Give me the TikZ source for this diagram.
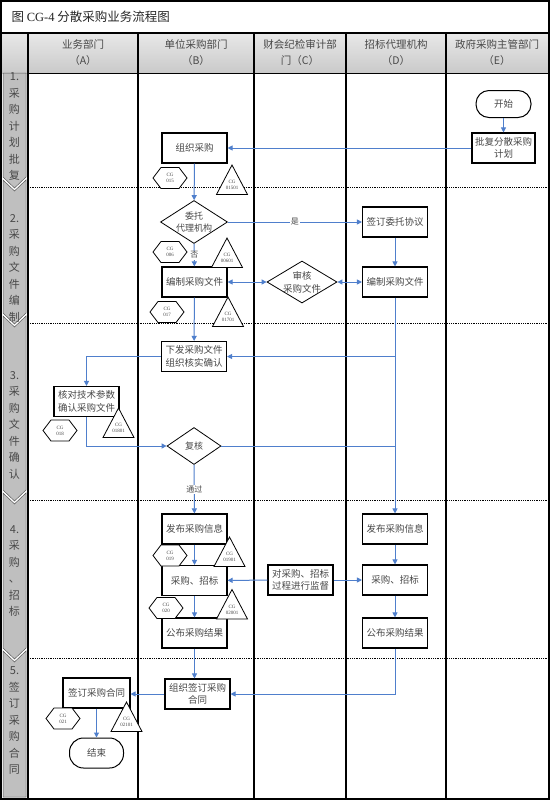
\documentclass[tikz,border=0pt]{standalone}
\usepackage{fontspec}
\setmainfont{Liberation Serif}
\newfontfamily\cjk{Noto Sans CJK SC}
\usetikzlibrary{shapes.geometric,arrows.meta,calc}
\definecolor{flowc}{HTML}{4F7FCC}
\definecolor{txt}{HTML}{484848}
\newcommand\cghex[4]{%
  \filldraw[cgshape] (#2-17,#3) -- (#2-9,#3-10.5) -- (#2+9,#3-10.5) -- (#2+17,#3) -- (#2+9,#3+10.5) -- (#2-9,#3+10.5) -- cycle;
  \node[cglabel] (#1) at (#2,#3) {CG\\#4};}
\newcommand\cgtri[4]{%
  \filldraw[cgshape] (#2,#3) -- (#2+15.5,#3+29.5) -- (#2-15.5,#3+29.5) -- cycle;
  \node[cglabel] (#1) at (#2,#3+20) {CG\\#4};}
\begin{document}
\begin{tikzpicture}[x=1pt,y=-1pt,
  box/.style={draw, line width=1.1pt, fill=white, minimum width=65pt, minimum height=30pt, inner sep=1pt, align=center, font=\cjk\fontsize{9.5}{12.5}\selectfont, text=txt},
  dec/.style={draw, diamond, line width=0.8pt, fill=white, inner sep=0pt},
  dectext/.style={align=center, font=\cjk\fontsize{9}{12}\selectfont, text=txt, inner sep=0pt},
  term/.style={draw, rounded corners=13pt, line width=1pt, fill=white, minimum width=55pt, minimum height=27pt, font=\cjk\fontsize{9.5}{12}\selectfont, text=txt},
  flow/.style={draw=flowc, line width=1pt, -{Triangle[length=5pt,width=5pt]}},
  flowtwo/.style={draw=flowc, line width=1pt, {Triangle[length=5pt,width=5pt]}-{Triangle[length=5pt,width=5pt]}},
  lineonly/.style={draw=flowc, line width=1pt},
  lab/.style={fill=white, inner sep=1pt, font=\cjk\fontsize{8}{9}\selectfont, text=txt},
  cgshape/.style={draw=black, line width=0.8pt, fill=white},
  cglabel/.style={align=center, font=\fontsize{5}{6}\selectfont, inner sep=0pt, text=txt},
  head/.style={align=center, font=\cjk\fontsize{10.5}{16}\selectfont, text=txt},
  phase/.style={align=center, font=\cjk\fontsize{11}{16.5}\selectfont, text=txt},
  chev/.style={fill=gray!50, draw=gray!70!black, line width=0.5pt},
  sep/.style={densely dotted, line width=0.8pt}
]
\useasboundingbox (0,0) rectangle (553,801);
\fill[white] (0,0) rectangle (553,801);
% header shading
\shade[top color=gray!18, bottom color=gray!42] (1,33) rectangle (549,73);
% phase chevrons
\fill[chev] (3,73) -- (26,73) -- (26,177) -- (14.5,188) -- (3,177) -- cycle;
\fill[chev] (3,180) -- (14.5,191) -- (26,180) -- (26,313) -- (14.5,324) -- (3,313) -- cycle;
\fill[chev] (3,316) -- (14.5,327) -- (26,316) -- (26,490) -- (14.5,501) -- (3,490) -- cycle;
\fill[chev] (3,493) -- (14.5,504) -- (26,493) -- (26,648) -- (14.5,659) -- (3,648) -- cycle;
\fill[chev] (3,651) -- (14.5,662) -- (26,651) -- (26,797) -- (3,797) -- cycle;
% separators
\foreach \yy in {187,323,500,658} \draw[sep] (28,\yy) -- (548,\yy);
% frame and columns
\draw[line width=1.2pt] (1,1) rectangle (549,799);
\draw[line width=1.2pt] (1,33) -- (549,33);
\draw[line width=0.6pt] (28,73) -- (549,73);
\foreach \xx in {28,138,254,346,446} \draw[line width=1.3pt] (\xx,33) -- (\xx,799);
% title
\node[anchor=west, font=\cjk\fontsize{12.5}{14}\selectfont, text=black!85] (title) at (8,17) {图 {\rmfamily CG-4} 分散采购业务流程图};
% headers
\node[head] (hA) at (83,53) {业务部门\\（A）};
\node[head] (hB) at (196,53) {单位采购部门\\（B）};
\node[head] (hC) at (300,53) {财会纪检审计部\\门（C）};
\node[head] (hD) at (396,53) {招标代理机构\\（D）};
\node[head] (hE) at (497,53) {政府采购主管部门\\（E）};
% phases
\node[phase] (p1) at (14.5,127) {1.\\采\\购\\计\\划\\批\\复};
\node[phase] (p2) at (14.5,268) {2.\\采\\购\\文\\件\\编\\制};
\node[phase] (p3) at (14.5,425) {3.\\采\\购\\文\\件\\确\\认};
\node[phase] (p4) at (14.5,571) {4.\\采\\购\\、\\招\\标};
\node[phase] (p5) at (14.5,721) {5.\\签\\订\\采\\购\\合\\同};
% nodes
\node[term] (start) at (503.5,104) {开始};
\node[box, minimum width=63pt] (pf) at (503.5,148) {批复分散采购\\计划};
\node[box] (zz) at (194.5,148) {组织采购};
\node[dec, minimum width=67pt, minimum height=43pt] (wt) at (194,222) {};
\node[dectext] (wtt) at (wt.center) {委托\\代理机构};
\node[box] (qd) at (395,222) {签订委托协议};
\node[box] (bzB) at (194.5,282) {编制采购文件};
\node[dec, minimum width=70pt, minimum height=42pt] (shd) at (302,282) {};
\node[dectext, font=\cjk\fontsize{9.5}{13}\selectfont] (shdt) at (shd.center) {审核\\采购文件};
\node[box] (bzD) at (395,282) {编制采购文件};
\node[box] (xf) at (194,356.5) {下发采购文件\\组织核实确认};
\node[box] (hd) at (86.5,401.5) {核对技术参数\\确认采购文件};
\node[dec, minimum width=54pt, minimum height=37pt] (fh) at (194,446) {};
\node[dectext] (fht) at (fh.center) {复核};
\node[box] (fbB) at (194.5,529) {发布采购信息};
\node[box] (cgB) at (194.5,580.5) {采购、招标};
\node[box] (gbB) at (194.5,633) {公布采购结果};
\node[box] (jd) at (300.5,580) {对采购、招标\\过程进行监督};
\node[box] (fbD) at (395,529) {发布采购信息};
\node[box] (cgD) at (395,580) {采购、招标};
\node[box] (gbD) at (395,633) {公布采购结果};
\node[box] (zqh) at (197.5,694) {组织签订采购\\合同};
\node[box, minimum width=67pt] (qht) at (96.5,693) {签订采购合同};
\node[term, minimum width=54pt, minimum height=30pt, rounded corners=14pt] (end) at (96.5,753) {结束};
% CG markers
\cghex{h015}{170}{178}{015}
\cgtri{t01501}{232}{165}{01501}
\cghex{h006}{170}{252}{006}
\cgtri{t00601}{227}{238}{00601}
\cghex{h017}{167}{312}{017}
\cgtri{t01701}{228}{297}{01701}
\cghex{h018}{60}{430.5}{018}
\cgtri{t01801}{118.5}{408}{01801}
\cghex{h019}{170}{555.5}{019}
\cgtri{t01901}{229.5}{537}{01901}
\cghex{h020}{166}{608}{020}
\cgtri{t02001}{232}{589.5}{02001}
\cghex{h021}{63}{718.5}{021}
\cgtri{t02101}{126.5}{702}{02101}
% connectors
\draw[flow] (start) -- (pf);
\draw[flow] (pf) -- (zz);
\draw[flow] (zz) -- (wt);
\draw[flow] (wt.east) -- node[lab]{是} (wt.east -| qd.west);
\draw[flow] (wt) -- node[lab]{否} (bzB);
\draw[flow] (qd) -- (bzD);
\draw[flowtwo] (bzB) -- (shd);
\draw[flowtwo] (shd) -- (bzD);
\draw[flow] (bzB) -- (xf);
\draw[flow] (bzD) -- (fbD);
\coordinate (j1) at (bzD.south |- xf.east);
\draw[flow] (j1) -- (xf.east);
\draw[flow] (xf.west) -| (hd.north);
\draw[flow] (hd.south) |- (fh.west);
\coordinate (j2) at (fh.east -| bzD.south);
\draw[lineonly] (fh.east) -- (j2);
\draw[flow] (fh) -- node[lab]{通过} (fbB);
\draw[flow] (fbB) -- (cgB);
\draw[flow] (cgB) -- (gbB);
\draw[flow] (jd) -- (cgB);
\draw[flow] (jd) -- (cgD);
\draw[flow] (fbD) -- (cgD);
\draw[flow] (cgD) -- (gbD);
\draw[flow] (gbB.south) -- (gbB.south |- zqh.north);
\draw[flow] (gbD.south) |- (zqh.east);
\draw[flow] (zqh.west) -- (zqh.west -| qht.east);
\draw[flow] (qht) -- (end);
\end{tikzpicture}
\end{document}
